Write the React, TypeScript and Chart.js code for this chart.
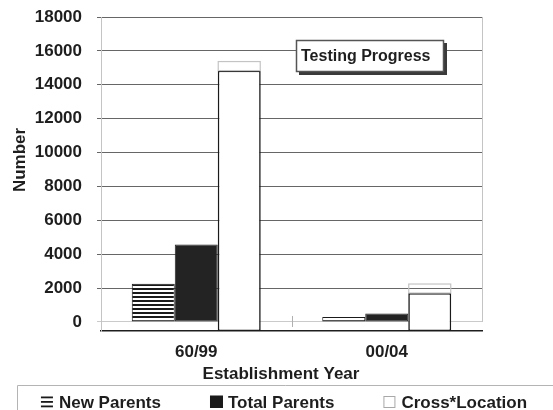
import React, { useEffect, useRef } from "react";
import { Chart, registerables } from "chart.js";

Chart.register(...registerables);

// ---- data ----
const categories = ["60/99", "00/04"];
const seriesLabels = ["New Parents", "Total Parents", "Cross*Location"];
const newParents = [2250, 300];
const totalParents = [4580, 500];
const crossLocation = [15370, 2240];
const yTicks = [0, 2000, 4000, 6000, 8000, 10000, 12000, 14000, 16000, 18000];
const chartTitle = "Testing Progress";
const xTitle = "Establishment Year";
const yTitle = "Number";

// depth of the 3D floor (value units) by which the back series is shifted
const DEPTH = 532;
const FONT = "'Liberation Sans', Arial, Helvetica, sans-serif";
const TEXT = "#1e1e1e";

function stripePattern(): CanvasPattern | string {
  const c = document.createElement("canvas");
  c.width = 4;
  c.height = 4;
  const g = c.getContext("2d");
  if (!g) return "#222";
  g.fillStyle = "#ffffff";
  g.fillRect(0, 0, 4, 4);
  g.fillStyle = "#1a1a1a";
  g.fillRect(0, 0, 4, 2);
  return g.createPattern(c, "repeat") || "#222";
}

const decorPlugin = {
  id: "decor",
  afterDraw(chart: any) {
    const ctx: CanvasRenderingContext2D = chart.ctx;
    const area = chart.chartArea;
    const xs = chart.scales.x;
    const ys = chart.scales.y;
    ctx.save();

    // back outline of the 3D series
    const meta = chart.getDatasetMeta(2);
    meta.data.forEach((el: any, i: number) => {
      const w = el.width;
      const left = el.x - w / 2;
      const topY = ys.getPixelForValue(crossLocation[i]);
      ctx.strokeStyle = "#c4c4c4";
      ctx.lineWidth = 1.2;
      ctx.strokeRect(left + 0.5, topY, w - 1, el.y - topY);
    });

    // right wall edge
    ctx.strokeStyle = "#c4c4c4";
    ctx.lineWidth = 1;
    ctx.beginPath();
    ctx.moveTo(Math.round(area.right) + 0.5, area.top);
    ctx.lineTo(Math.round(area.right) + 0.5, ys.getPixelForValue(0));
    ctx.stroke();

    // category separator tick on the floor
    const sepX = (xs.getPixelForValue(0) + xs.getPixelForValue(1)) / 2;
    const y0 = ys.getPixelForValue(0);
    ctx.strokeStyle = "#b0b0b0";
    ctx.beginPath();
    ctx.moveTo(Math.round(sepX) + 0.5, y0 - 6);
    ctx.lineTo(Math.round(sepX) + 0.5, y0 + 5);
    ctx.stroke();

    // title box
    const bx = 296, by = 40, bw = 148, bh = 32;
    ctx.fillStyle = "#3a3a3a";
    ctx.fillRect(bx + 3, by + 3, bw, bh);
    ctx.fillStyle = "#ffffff";
    ctx.fillRect(bx, by, bw, bh);
    ctx.strokeStyle = "#555";
    ctx.lineWidth = 1.5;
    ctx.strokeRect(bx + 0.5, by + 0.5, bw - 1, bh - 1);
    ctx.fillStyle = TEXT;
    ctx.font = `bold 16px ${FONT}`;
    ctx.textAlign = "left";
    ctx.textBaseline = "middle";
    ctx.fillText(chartTitle, bx + 5, by + bh / 2 + 1);

    // axis titles
    ctx.font = `bold 17px ${FONT}`;
    ctx.textAlign = "center";
    ctx.textBaseline = "middle";
    ctx.fillText(xTitle, 281, 374);
    ctx.save();
    ctx.translate(20, 160);
    ctx.rotate(-Math.PI / 2);
    ctx.fillText(yTitle, 0, 0);
    ctx.restore();

    // legend
    ctx.strokeStyle = "#b4b4b4";
    ctx.lineWidth = 1;
    ctx.beginPath();
    ctx.moveTo(17.5, 410);
    ctx.lineTo(17.5, 385.5);
    ctx.lineTo(553, 385.5);
    ctx.stroke();

    ctx.font = `bold 17px ${FONT}`;
    ctx.textAlign = "left";
    ctx.textBaseline = "alphabetic";
    const markerW = 13;
    const markerGap = 5;
    const itemGap = 49;
    const widths = seriesLabels.map((t) => ctx.measureText(t).width);
    const total =
      widths.reduce((a, b) => a + b, 0) +
      seriesLabels.length * (markerW + markerGap) +
      (seriesLabels.length - 1) * itemGap;
    let x = 284 - total / 2;
    const baseY = 408;
    seriesLabels.forEach((label, i) => {
      if (i === 0) {
        ctx.fillStyle = "#1a1a1a";
        [396.5, 401, 405.5].forEach((ly) => ctx.fillRect(x, ly, markerW - 1, 1.8));
      } else if (i === 1) {
        ctx.fillStyle = "#1a1a1a";
        ctx.fillRect(x, 395.5, markerW, 12.5);
      } else {
        ctx.strokeStyle = "#a8a8a8";
        ctx.lineWidth = 1;
        ctx.strokeRect(x + 0.5, 396.5, markerW - 2, 11);
      }
      ctx.fillStyle = TEXT;
      ctx.fillText(label, x + markerW + markerGap, baseY);
      x += markerW + markerGap + widths[i] + itemGap;
    });

    ctx.restore();
  },
};

export default function App() {
  const ref = useRef<HTMLCanvasElement | null>(null);

  useEffect(() => {
    document.body.style.margin = "0";
    const canvas = ref.current;
    if (!canvas) return;
    const font = { family: FONT, size: 17, weight: "bold" as const };
    const chart = new Chart(canvas, {
      type: "bar",
      data: {
        labels: categories,
        datasets: [
          {
            label: seriesLabels[0],
            data: newParents,
            backgroundColor: stripePattern() as any,
            borderColor: "#1a1a1a",
            borderWidth: 1,
            borderSkipped: false,
          },
          {
            label: seriesLabels[1],
            data: totalParents,
            backgroundColor: "#232323",
            borderColor: "#232323",
            borderWidth: 1,
            borderSkipped: false,
          },
          {
            label: seriesLabels[2],
            data: crossLocation.map((v) => v - DEPTH),
            base: -DEPTH,
            backgroundColor: "#ffffff",
            borderColor: "#1a1a1a",
            borderWidth: 1.6,
            borderSkipped: false,
          } as any,
        ],
      },
      options: {
        responsive: false,
        animation: false,
        datasets: { bar: { categoryPercentage: 0.677, barPercentage: 1 } },
        layout: { padding: { top: 17, right: 71, left: 0, bottom: 0 } },
        plugins: { legend: { display: false }, tooltip: { enabled: false }, title: { display: false } },
        scales: {
          x: {
            grid: { display: false, drawTicks: false },
            border: { display: true, color: "#1e1e1e", width: 1.5 },
            ticks: { font, color: TEXT, padding: 11 },
            afterFit: (s: any) => {
              s.height = 79;
              s.paddingLeft = 0;
              s.paddingRight = 0;
            },
          },
          y: {
            min: -DEPTH,
            max: 18000,
            afterBuildTicks: (s: any) => {
              s.ticks = yTicks.map((v) => ({ value: v }));
            },
            grid: {
              color: (c: any) => (c.tick && c.tick.value === 0 ? "#cacaca" : "#666666"),
              tickLength: 4,
              lineWidth: 1,
            },
            border: { display: true, color: "#c4c4c4" },
            ticks: { font, color: TEXT, padding: 15, callback: (v: any) => String(v) },
            afterFit: (s: any) => {
              s.width = 101;
              s.paddingTop = 0;
              s.paddingBottom = 0;
            },
          },
        },
      },
      plugins: [decorPlugin],
    });
    return () => chart.destroy();
  }, []);

  return (
    <canvas
      ref={ref}
      width={553}
      height={410}
      style={{ display: "block", width: 553, height: 410 }}
    />
  );
}
